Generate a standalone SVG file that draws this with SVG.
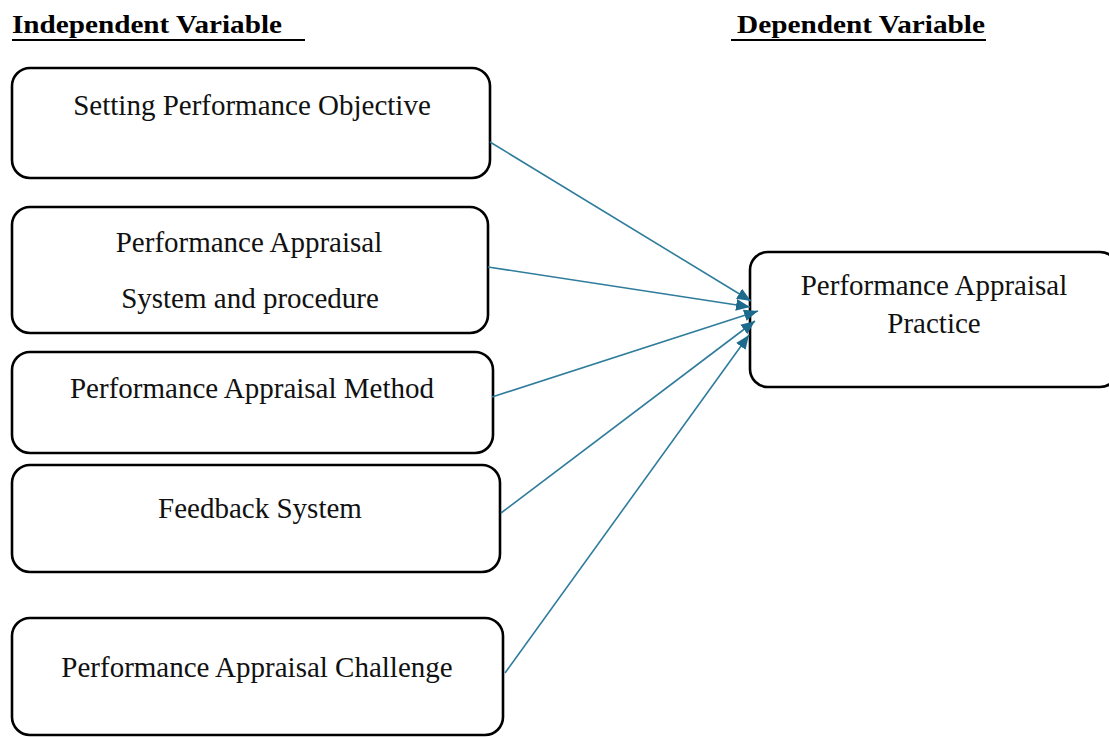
<svg xmlns="http://www.w3.org/2000/svg" width="1109" height="737" viewBox="0 0 1109 737">
  <style>
    .box { fill: #ffffff; stroke: #000000; stroke-width: 2.6; }
    .label { font-family: "Liberation Serif", "Times New Roman", serif; font-size: 29px; fill: #111111; text-anchor: middle; }
    .title { font-family: "Liberation Serif", "Times New Roman", serif; font-size: 26px; font-weight: bold; fill: #000000; }
    .rule { stroke: #000000; stroke-width: 2; }
    .link { stroke: #2f7c9c; stroke-width: 1.6; fill: none; marker-end: url(#head); }
  </style>
  <defs>
    <marker id="head" viewBox="0 0 12 10" refX="12" refY="5" markerWidth="14" markerHeight="12" markerUnits="userSpaceOnUse" orient="auto">
      <path d="M0,0 L12,5 L0,10 Z" fill="#1d6a8c"/>
    </marker>
  </defs>
  <rect width="1109" height="737" fill="#ffffff"/>

  <!-- column headings -->
  <g id="heading-independent">
    <text class="title" x="12" y="33" textLength="270" lengthAdjust="spacingAndGlyphs">Independent Variable</text>
    <line class="rule" x1="12" y1="40" x2="305" y2="40"/>
  </g>
  <g id="heading-dependent">
    <text class="title" x="737" y="33" textLength="248" lengthAdjust="spacingAndGlyphs">Dependent Variable</text>
    <line class="rule" x1="731" y1="40" x2="986" y2="40"/>
  </g>

  <!-- independent variables -->
  <g id="node-objective">
    <rect class="box" x="12" y="68" width="478" height="110" rx="18"/>
    <text class="label" x="252" y="115">Setting Performance Objective</text>
  </g>
  <g id="node-system">
    <rect class="box" x="12" y="207" width="476" height="126" rx="18"/>
    <text class="label" x="249" y="252">Performance Appraisal</text>
    <text class="label" x="250" y="308">System and procedure</text>
  </g>
  <g id="node-method">
    <rect class="box" x="12" y="352" width="481" height="101" rx="18"/>
    <text class="label" x="252" y="398">Performance Appraisal Method</text>
  </g>
  <g id="node-feedback">
    <rect class="box" x="12" y="465" width="488" height="107" rx="18"/>
    <text class="label" x="260" y="518">Feedback System</text>
  </g>
  <g id="node-challenge">
    <rect class="box" x="12" y="618" width="491" height="117" rx="18"/>
    <text class="label" x="257" y="677">Performance Appraisal Challenge</text>
  </g>

  <!-- dependent variable -->
  <g id="node-practice">
    <rect class="box" x="750" y="252" width="368" height="135" rx="18"/>
    <text class="label" x="934" y="295">Performance Appraisal</text>
    <text class="label" x="934" y="333">Practice</text>
  </g>

  <!-- connectors -->
  <g id="connectors">
    <line class="link" x1="490" y1="142" x2="751" y2="301"/>
    <line class="link" x1="488" y1="267" x2="750" y2="307"/>
    <line class="link" x1="492" y1="397" x2="758" y2="311"/>
    <line class="link" x1="501" y1="513" x2="755" y2="321"/>
    <line class="link" x1="505" y1="673" x2="749" y2="335"/>
  </g>
</svg>
